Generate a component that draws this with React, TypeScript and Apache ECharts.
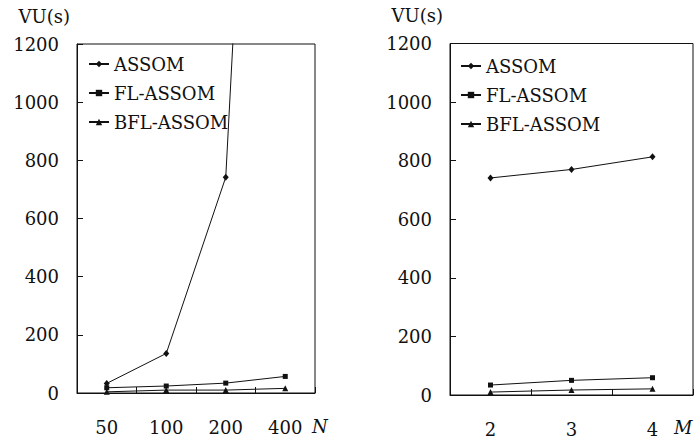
import React, { useEffect, useRef } from "react";
import * as echarts from "echarts";

const categoriesN = ["50", "100", "200", "400"];
const categoriesM = ["2", "3", "4"];
const assomN = [33, 136, 742, 4600];
const flAssomN = [18, 24, 34, 57];
const bflAssomN = [4, 10, 10, 16];
const assomM = [741, 770, 813];
const flAssomM = [34, 50, 59];
const bflAssomM = [10, 17, 21];
const seriesNames = ["ASSOM", "FL-ASSOM", "BFL-ASSOM"];
const yMin = 0;
const yMax = 1200;
const yStep = 200;

const FONT = "DejaVu Serif";
const INK = "#111";
const FS = 18;

export default function App() {
  const ref = useRef<HTMLDivElement>(null);
  useEffect(() => {
    if (!ref.current) return;
    const chart = echarts.init(ref.current, undefined, { renderer: "svg" });
    const symbols = [
      { symbol: "diamond", symbolSize: [6, 7] },
      { symbol: "rect", symbolSize: 5 },
      { symbol: "triangle", symbolSize: 6 },
    ];
    const mkSeries = (idx: number, data: number[][]) =>
      data.map((d, i) => ({
        type: "line",
        name: seriesNames[i],
        xAxisIndex: idx,
        yAxisIndex: idx,
        data: d,
        symbol: symbols[i].symbol,
        symbolSize: symbols[i].symbolSize,
        showSymbol: true,
        clip: true,
        lineStyle: { color: INK, width: 1 },
        itemStyle: { color: INK },
      }));
    const yAxisBase = {
      type: "value",
      min: yMin,
      max: yMax,
      interval: yStep,
      name: "VU(s)",
      nameLocation: "end",
      nameGap: 19,
      nameTextStyle: {
        fontFamily: FONT,
        fontSize: FS,
        color: INK,
        align: "right",
        padding: [0, 7, 0, 0],
      },
      axisLine: { show: true, lineStyle: { color: INK, width: 1 } },
      axisTick: { show: true, inside: true, length: 6, lineStyle: { color: INK } },
      splitLine: { show: false },
      axisLabel: {
        fontFamily: FONT,
        fontSize: FS,
        color: INK,
        margin: 18,
        formatter: (v: number) => String(v),
      },
    };
    const xAxisBase = (cats: string[]) => ({
      type: "category",
      data: cats,
      boundaryGap: true,
      axisLine: { show: true, lineStyle: { color: INK, width: 1 } },
      axisTick: { show: true, inside: true, length: 6, lineStyle: { color: INK } },
      axisLabel: { fontFamily: FONT, fontSize: FS, color: INK, margin: 25 },
      splitLine: { show: false },
    });
    const legendBase = {
      orient: "vertical",
      padding: 0,
      itemWidth: 20,
      itemHeight: 8,
      itemGap: 11,
      textStyle: { fontFamily: FONT, fontSize: FS, color: INK },
      data: seriesNames,
      selectedMode: false,
    };
    const axisNameStyle = {
      fontFamily: FONT,
      fontSize: FS,
      fontStyle: "italic",
      fill: INK,
      verticalAlign: "middle",
    };
    chart.setOption({
      animation: false,
      backgroundColor: "#fff",
      grid: [
        { left: 77, top: 44, width: 238, height: 349, show: true, borderColor: INK, borderWidth: 1 },
        { left: 450, top: 43.5, width: 243, height: 351.5, show: true, borderColor: INK, borderWidth: 1 },
      ],
      legend: [
        { ...legendBase, left: 88, top: 55 },
        { ...legendBase, left: 460, top: 57 },
      ],
      xAxis: [
        { ...xAxisBase(categoriesN), gridIndex: 0 },
        { ...xAxisBase(categoriesM), gridIndex: 1 },
      ],
      yAxis: [
        { ...yAxisBase, gridIndex: 0 },
        { ...yAxisBase, gridIndex: 1 },
      ],
      graphic: [
        { type: "text", left: 312, top: 417, style: { ...axisNameStyle, text: "N" } },
        { type: "text", left: 674, top: 418, style: { ...axisNameStyle, text: "M" } },
      ],
      series: [
        ...mkSeries(0, [assomN, flAssomN, bflAssomN]),
        ...mkSeries(1, [assomM, flAssomM, bflAssomM]),
      ],
    });
    return () => chart.dispose();
  }, []);
  return (
    <div
      ref={ref}
      style={{ position: "absolute", left: 0, top: 0, width: 694, height: 442 }}
    />
  );
}
